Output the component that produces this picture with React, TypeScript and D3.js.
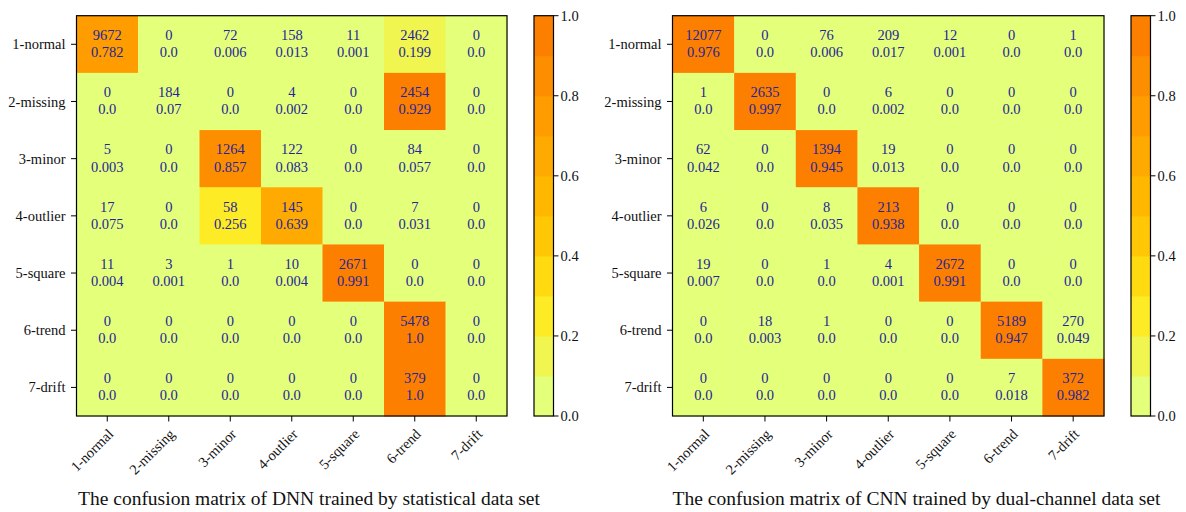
import React from "react";
import * as d3 from "d3";

const classLabels = ["1-normal", "2-missing", "3-minor", "4-outlier", "5-square", "6-trend", "7-drift"];

const dnnCounts = [
  [9672, 0, 72, 158, 11, 2462, 0],
  [0, 184, 0, 4, 0, 2454, 0],
  [5, 0, 1264, 122, 0, 84, 0],
  [17, 0, 58, 145, 0, 7, 0],
  [11, 3, 1, 10, 2671, 0, 0],
  [0, 0, 0, 0, 0, 5478, 0],
  [0, 0, 0, 0, 0, 379, 0],
];
const dnnRatios = [
  [0.782, 0.0, 0.006, 0.013, 0.001, 0.199, 0.0],
  [0.0, 0.07, 0.0, 0.002, 0.0, 0.929, 0.0],
  [0.003, 0.0, 0.857, 0.083, 0.0, 0.057, 0.0],
  [0.075, 0.0, 0.256, 0.639, 0.0, 0.031, 0.0],
  [0.004, 0.001, 0.0, 0.004, 0.991, 0.0, 0.0],
  [0.0, 0.0, 0.0, 0.0, 0.0, 1.0, 0.0],
  [0.0, 0.0, 0.0, 0.0, 0.0, 1.0, 0.0],
];
const cnnCounts = [
  [12077, 0, 76, 209, 12, 0, 1],
  [1, 2635, 0, 6, 0, 0, 0],
  [62, 0, 1394, 19, 0, 0, 0],
  [6, 0, 8, 213, 0, 0, 0],
  [19, 0, 1, 4, 2672, 0, 0],
  [0, 18, 1, 0, 0, 5189, 270],
  [0, 0, 0, 0, 0, 7, 372],
];
const cnnRatios = [
  [0.976, 0.0, 0.006, 0.017, 0.001, 0.0, 0.0],
  [0.0, 0.997, 0.0, 0.002, 0.0, 0.0, 0.0],
  [0.042, 0.0, 0.945, 0.013, 0.0, 0.0, 0.0],
  [0.026, 0.0, 0.035, 0.938, 0.0, 0.0, 0.0],
  [0.007, 0.0, 0.0, 0.001, 0.991, 0.0, 0.0],
  [0.0, 0.003, 0.0, 0.0, 0.0, 0.947, 0.049],
  [0.0, 0.0, 0.0, 0.0, 0.0, 0.018, 0.982],
];
const colorbarTicks = [0.0, 0.2, 0.4, 0.6, 0.8, 1.0];
const titles = [
  "The confusion matrix of DNN trained by statistical data set",
  "The confusion matrix of CNN trained by dual-channel data set",
];

const wistiaColors = ["#e4ff7a", "#ffe81a", "#ffbd00", "#ffa000", "#fc7f00"];
const wistia = d3.scaleLinear<string>().domain([0, 0.25, 0.5, 0.75, 1]).range(wistiaColors);
const NLEV = 10;
const levelColor = (v: number) => {
  const b = Math.min(NLEV - 1, Math.max(0, Math.floor(v * NLEV)));
  return wistia(b / (NLEV - 1));
};
const fmt = (v: number) => (Number.isInteger(v) ? v.toFixed(1) : String(v));

const FONT = "'Liberation Serif', 'Times New Roman', serif";
const TXT = "#25259a";

type PanelProps = {
  counts: number[][];
  ratios: number[][];
  x0: number;
  x1: number;
  cbX: number;
  title: string;
  titleX: number;
};

function Panel({ counts, ratios, x0, x1, cbX, title, titleX }: PanelProps) {
  const y0 = 15.7;
  const y1 = 416;
  const x = d3.scaleBand<string>().domain(classLabels).range([x0, x1]);
  const y = d3.scaleBand<string>().domain(classLabels).range([y0, y1]);
  const cb = d3.scaleLinear().domain([0, 1]).range([y1, y0]);
  const cbW = 19.5;
  const levels = d3.range(NLEV).map((i) => i / NLEV);
  return (
    <g fontFamily={FONT}>
      {counts.map((row, i) =>
        row.map((c, j) => {
          const r = ratios[i][j];
          const cx = x(classLabels[j])! + x.bandwidth() / 2;
          const cy = y(classLabels[i])! + y.bandwidth() / 2;
          return (
            <g key={`${i}-${j}`}>
              <rect
                x={x(classLabels[j])!}
                y={y(classLabels[i])!}
                width={x.bandwidth() + 0.5}
                height={y.bandwidth() + 0.5}
                fill={levelColor(r)}
              />
              <text x={cx} y={cy - 4.3} textAnchor="middle" fontSize={14.5} fill={TXT}>
                {c}
              </text>
              <text x={cx} y={cy + 13} textAnchor="middle" fontSize={14.5} fill={TXT}>
                {fmt(r)}
              </text>
            </g>
          );
        })
      )}
      <rect x={x0} y={y0} width={x1 - x0} height={y1 - y0} fill="none" stroke="#000" strokeWidth={1.2} />
      {classLabels.map((l) => {
        const cy = y(l)! + y.bandwidth() / 2;
        return (
          <g key={"y" + l}>
            <line x1={x0 - 5.5} x2={x0} y1={cy} y2={cy} stroke="#000" strokeWidth={1} />
            <text x={x0 - 11} y={cy} dy="0.35em" textAnchor="end" fontSize={14.5} fill="#111">
              {l}
            </text>
          </g>
        );
      })}
      {classLabels.map((l) => {
        const cx = x(l)! + x.bandwidth() / 2;
        return (
          <g key={"x" + l}>
            <line x1={cx} x2={cx} y1={y1} y2={y1 + 5.5} stroke="#000" strokeWidth={1} />
            <text
              transform={`translate(${cx + 7},${y1 + 19}) rotate(-45)`}
              textAnchor="end"
              fontSize={14.5}
              fill="#111"
            >
              {l}
            </text>
          </g>
        );
      })}
      {levels.map((v) => (
        <rect
          key={"cb" + v}
          x={cbX}
          y={cb(v + 1 / NLEV)}
          width={cbW}
          height={cb(v) - cb(v + 1 / NLEV) + 0.5}
          fill={levelColor(v + 0.05)}
        />
      ))}
      <rect x={cbX} y={y0} width={cbW} height={y1 - y0} fill="none" stroke="#000" strokeWidth={1.2} />
      {colorbarTicks.map((t) => (
        <g key={"cbt" + t}>
          <line x1={cbX + cbW} x2={cbX + cbW + 5} y1={cb(t)} y2={cb(t)} stroke="#000" strokeWidth={1} />
          <text x={cbX + cbW + 7} y={cb(t)} dy="0.35em" fontSize={14.5} fill="#111">
            {t.toFixed(1)}
          </text>
        </g>
      ))}
      <text x={titleX} y={504.5} textAnchor="middle" fontSize={19.5} fill="#111">
        {title}
      </text>
    </g>
  );
}

export default function App() {
  return (
    <svg
      width={1186}
      height={512}
      style={{ position: "absolute", left: 0, top: 0, background: "#fff" }}
    >
      <rect x={0} y={0} width={1186} height={512} fill="#fff" />
      <Panel counts={dnnCounts} ratios={dnnRatios} x0={76.5} x1={507} cbX={534} title={titles[0]} titleX={309} />
      <Panel counts={cnnCounts} ratios={cnnRatios} x0={672.5} x1={1104} cbX={1131} title={titles[1]} titleX={916.5} />
    </svg>
  );
}
